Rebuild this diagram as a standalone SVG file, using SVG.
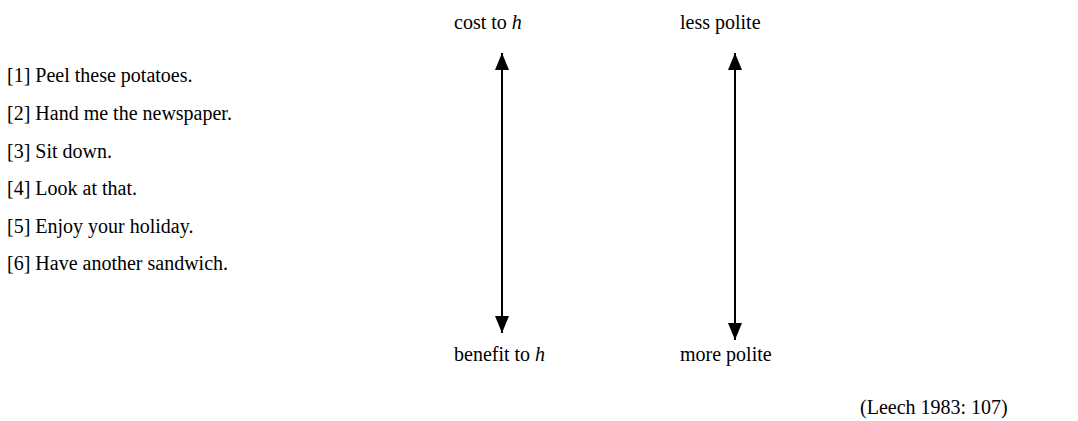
<svg xmlns="http://www.w3.org/2000/svg" width="1078" height="421" viewBox="0 0 1078 421">
<style>
text{font-family:"Liberation Serif","Times New Roman",serif;font-size:20px;fill:#000}
.ax{stroke:#000;stroke-width:2;fill:none}
</style>
<defs>
<marker id="ah" viewBox="0 0 14 17" refX="14" refY="7" markerWidth="14" markerHeight="17" markerUnits="userSpaceOnUse" orient="auto">
<path d="M0,0 L17,7 L0,14 Z" fill="#000"/>
</marker>
<marker id="ah2" viewBox="0 0 17 14" refX="17" refY="7" markerWidth="17" markerHeight="14" markerUnits="userSpaceOnUse" orient="auto">
<path d="M0,0 L17,7 L0,14 Z" fill="#000"/>
</marker>
</defs>
<rect width="1078" height="421" fill="#fff"/>
<g id="list">
<text x="7" y="82">[1] Peel these potatoes.</text>
<text x="7" y="120">[2] Hand me the newspaper.</text>
<text x="7" y="158">[3] Sit down.</text>
<text x="7" y="195">[4] Look at that.</text>
<text x="7" y="233">[5] Enjoy your holiday.</text>
<text x="7" y="270">[6] Have another sandwich.</text>
</g>
<g id="labels">
<text id="cost" x="454" y="29">cost to <tspan font-style="italic">h</tspan></text>
<text id="less" x="680" y="29">less polite</text>
<text id="benefit" x="454" y="361">benefit to <tspan font-style="italic">h</tspan></text>
<text id="more" x="680" y="361">more polite</text>
<text id="src" x="860" y="414">(Leech 1983: 107)</text>
</g>
<g id="connectors">
<line class="ax" x1="502" y1="190" x2="502" y2="53" marker-end="url(#ah2)"/>
<line class="ax" x1="502" y1="190" x2="502" y2="333" marker-end="url(#ah2)"/>
<line class="ax" x1="735" y1="190" x2="735" y2="53" marker-end="url(#ah2)"/>
<line class="ax" x1="735" y1="190" x2="735" y2="340" marker-end="url(#ah2)"/>
</g>
</svg>
